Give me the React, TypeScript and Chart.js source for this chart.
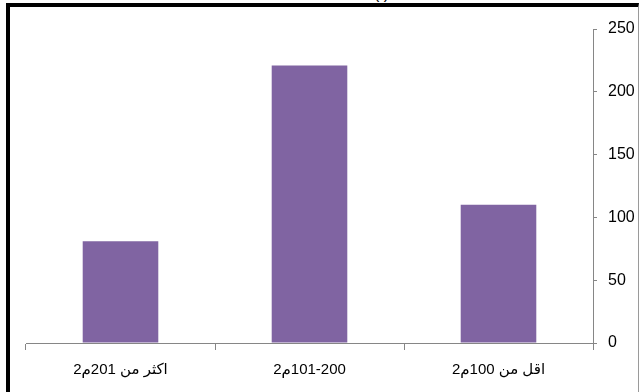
import { useEffect, useRef } from "react";
import { Chart, registerables } from "chart.js";

Chart.register(...registerables);

// Floor-area classes (m²) and the number of dwellings in each
const categories = ["اقل من 100م2", "101-200م2", "اكثر من 201م2"];
const counts = [110, 221, 81];
const yTickValues = [0, 50, 100, 150, 200, 250];

const BAR_COLOR = "#8064A2";
const AXIS_COLOR = "#868686";
const FONT_FAMILY = "'Liberation Sans', 'DejaVu Sans', Arial, sans-serif";

export default function App() {
  const canvasRef = useRef<HTMLCanvasElement>(null);

  useEffect(() => {
    const canvas = canvasRef.current;
    if (!canvas) return;
    const chart = new Chart(canvas, {
      type: "bar",
      data: {
        labels: categories,
        datasets: [
          {
            data: counts,
            backgroundColor: BAR_COLOR,
            borderWidth: 0,
            barPercentage: 0.4,
            categoryPercentage: 1,
          },
        ],
      },
      options: {
        animation: false,
        responsive: false,
        devicePixelRatio: 1,
        layout: { padding: { left: 26, top: 29, right: 0, bottom: 0 } },
        plugins: {
          legend: { display: false },
          tooltip: { enabled: false },
        },
        scales: {
          x: {
            reverse: true,
            grid: {
              offset: true,
              drawOnChartArea: false,
              drawTicks: true,
              tickLength: 7,
              color: AXIS_COLOR,
            },
            border: { color: AXIS_COLOR, width: 1 },
            ticks: {
              color: "#000",
              padding: 11,
              maxRotation: 0,
              autoSkip: false,
              font: { family: FONT_FAMILY, size: 15 },
            },
            afterFit: (scale: any) => {
              scale.height = 49;
            },
          },
          y: {
            position: "right",
            min: 0,
            max: 250,
            afterBuildTicks: (scale: any) => {
              scale.ticks = yTickValues.map((v) => ({ value: v }));
            },
            grid: {
              drawOnChartArea: false,
              drawTicks: true,
              tickLength: 4,
              color: AXIS_COLOR,
            },
            border: { color: AXIS_COLOR, width: 1 },
            ticks: {
              color: "#000",
              padding: 11,
              font: { family: FONT_FAMILY, size: 16 },
            },
            afterFit: (scale: any) => {
              scale.width = 48;
            },
          },
        },
      },
    });
    return () => chart.destroy();
  }, []);

  return (
    <div
      style={{
        position: "fixed",
        left: 0,
        top: 0,
        width: 641,
        height: 392,
        overflow: "hidden",
        background: "#fff",
      }}
    >
      <div
        style={{
          position: "absolute",
          left: 6,
          top: 3,
          width: 628,
          height: 420,
          borderTop: "4px solid #000",
          borderLeft: "4px solid #000",
          borderRight: "1px solid #9a9a9a",
        }}
      />
      <div
        style={{
          position: "absolute",
          left: 374,
          top: -14,
          whiteSpace: "nowrap",
          fontFamily: FONT_FAMILY,
          fontSize: 16,
          lineHeight: "16px",
          color: "#000",
          letterSpacing: 7,
        }}
      >
        (أ)
      </div>
      <canvas
        ref={canvasRef}
        dir="rtl"
        width={641}
        height={392}
        style={{ position: "absolute", left: 0, top: 0, width: 641, height: 392 }}
      />
    </div>
  );
}
